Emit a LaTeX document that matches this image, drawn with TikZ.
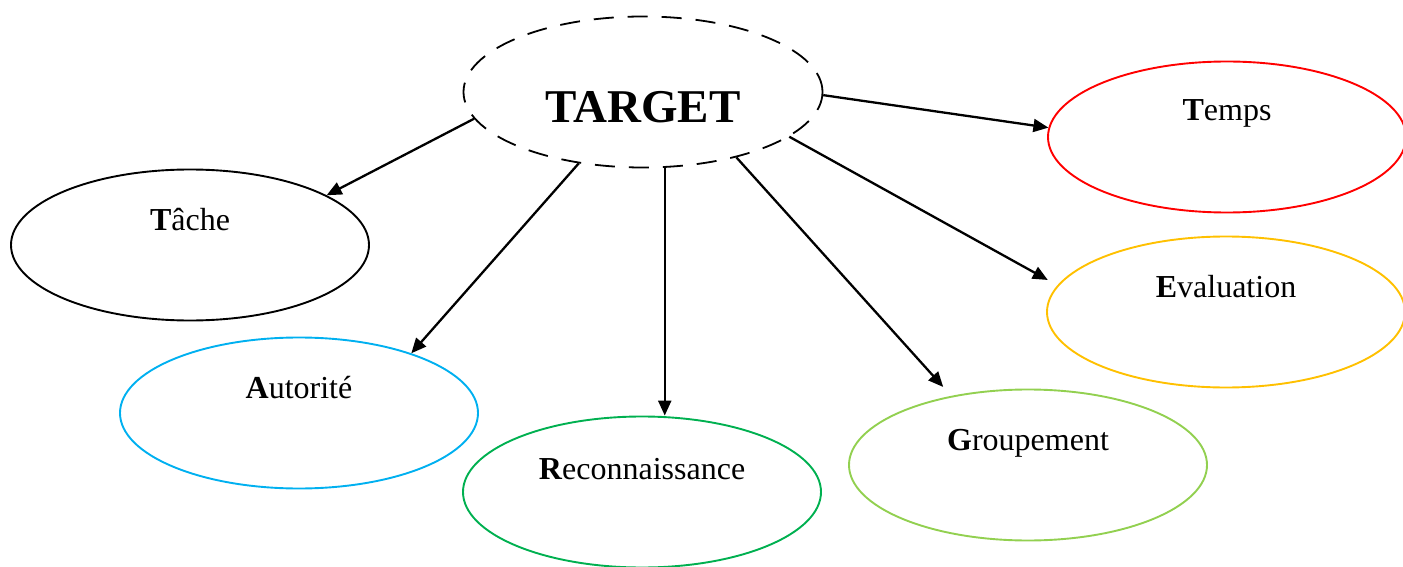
\documentclass[tikz,border=0pt]{standalone}
\usepackage{fontspec}
\setmainfont{Liberation Serif}
\usetikzlibrary{shapes.geometric,arrows.meta,calc}
\definecolor{cRed}{HTML}{FF0000}
\definecolor{cOrange}{HTML}{FFC000}
\definecolor{cBlue}{HTML}{00B0F0}
\definecolor{cGreen}{HTML}{00B050}
\definecolor{cLime}{HTML}{92D050}
\tikzset{
  bubble/.style={ellipse, draw, line width=1.9pt, minimum width=358pt, minimum height=151pt, inner sep=0pt},
  lbl/.style={anchor=base, inner sep=0pt, font=\fontsize{32}{36}\selectfont},
  conn/.style={line width=2.3pt, -{Triangle[length=15pt,width=13pt]}},
}
\begin{document}
\begin{tikzpicture}[x=1pt,y=-1pt]
\useasboundingbox (0,0) rectangle (1403,567);
\node[ellipse, minimum width=359pt, minimum height=151pt, inner sep=0pt,
      preaction={draw=gray!60, line width=0.7pt},
      draw=black, line width=1.8pt, dash pattern=on 20pt off 14pt] (target) at (643,92) {};
\node[anchor=base, inner sep=0pt, font=\fontsize{47}{52}\selectfont\bfseries] (ttxt) at (643,123) {TARGET};

\node[bubble, draw=black] (tache) at (190,245) {};
\node[lbl] (ttache) at (190,230) {\textbf{T}âche};

\node[bubble, draw=cBlue] (auto) at (299,413) {};
\node[lbl] (tauto) at (299,398) {\textbf{A}utorité};

\node[bubble, draw=cGreen] (reco) at (642,492) {};
\node[lbl] (treco) at (642,479) {\textbf{R}econnaissance};

\node[bubble, draw=cLime] (grp) at (1028,465) {};
\node[lbl] (tgrp) at (1028,450) {\textbf{G}roupement};

\node[bubble, draw=cOrange] (eval) at (1226,312) {};
\node[lbl] (teval) at (1226,297) {\textbf{E}valuation};

\node[bubble, draw=cRed] (temps) at (1227,137) {};
\node[lbl] (ttemps) at (1227,121) {\textbf{T}emps};

\draw[conn] (target.189) -- (tache.20);
\draw[conn] (target.228.6) -- (auto.28);
\draw[conn] (target.286) -- (target.286 |- reco.north);
\draw[conn, shorten >=12pt] (target.325) -- (grp.138.4);
\draw[conn, shorten >=11pt] (target.343.2) -- (eval.171.7);
\draw[conn] (target.359.7) -- (temps.177.8);
\end{tikzpicture}
\end{document}
